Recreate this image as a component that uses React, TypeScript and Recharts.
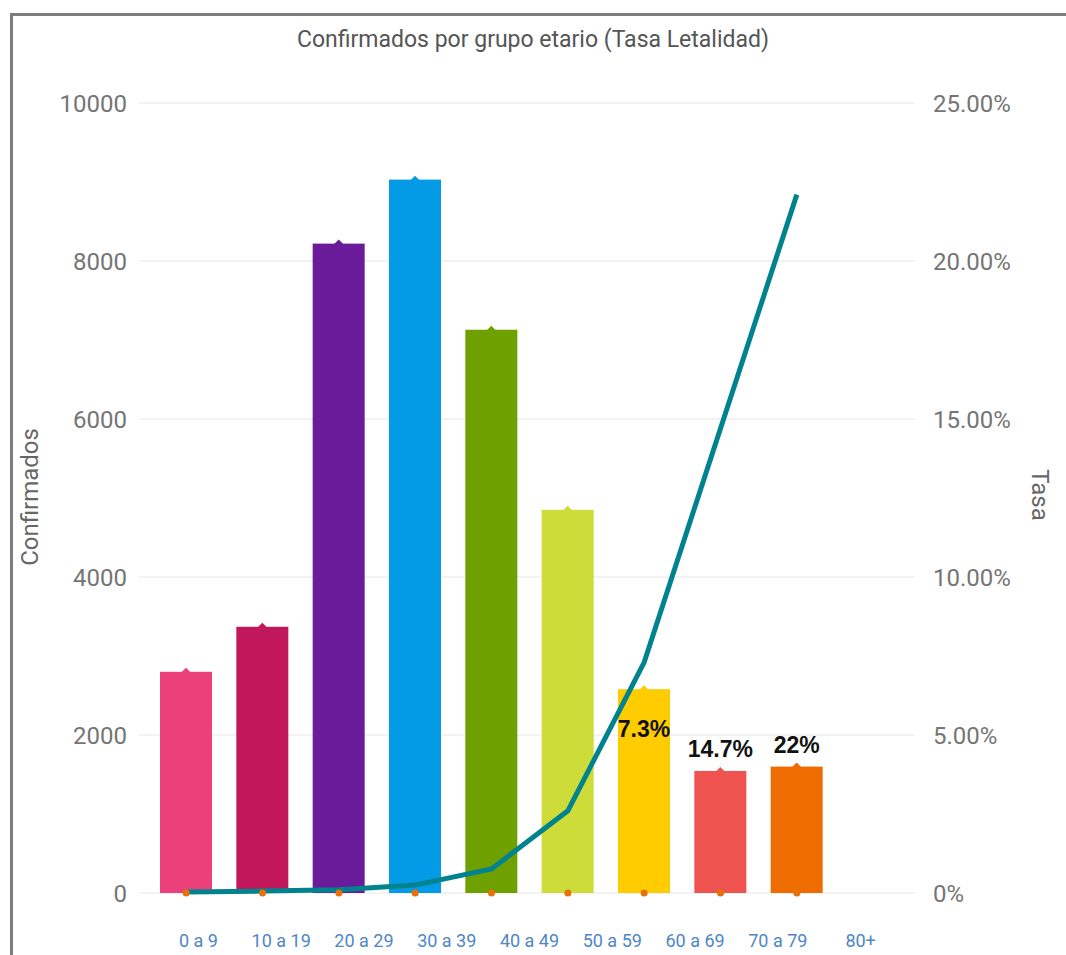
import React from "react";
import {
  Bar,
  CartesianGrid,
  Cell,
  ComposedChart,
  LabelList,
  Line,
  XAxis,
  YAxis,
} from "recharts";

// datos
const grupos = ["0 a 9", "10 a 19", "20 a 29", "30 a 39", "40 a 49", "50 a 59", "60 a 69", "70 a 79", "80+"];
const confirmados = [2800, 3370, 8220, 9030, 7130, 4850, 2580, 1545, 1600];
const tasa = [0.03, 0.06, 0.1, 0.25, 0.76, 2.6, 7.3, 14.7, 22.1];
const base = [0, 0, 0, 0, 0, 0, 0, 0, 0];
const etiquetas = ["", "", "", "", "", "", "7.3%", "14.7%", "22%"];
const colores = ["#ec407a", "#c2185b", "#6a1b9a", "#039be5", "#6ea100", "#cddc39", "#ffcc00", "#ef5350", "#ef6c00"];

const leftTicks = [0, 2000, 4000, 6000, 8000, 10000];
const rightTicks = [0, 5, 10, 15, 20, 25];

const data = grupos.map((g, i) => ({
  grupo: g,
  confirmados: confirmados[i],
  tasa: tasa[i],
  base: base[i],
  etiqueta: etiquetas[i],
}));

const FONT = "Roboto, 'Noto Sans', sans-serif";

// barra con pequeña marca en la parte superior
const BarWithCap = (props: any) => {
  const { x, y, width, height, fill } = props;
  if (width == null || height == null) return null;
  const cx = x + width / 2;
  return (
    <g>
      <rect x={x} y={y} width={width} height={height} fill={fill} />
      <path d={`M${cx - 5},${y + 1} L${cx},${y - 4} L${cx + 5},${y + 1} Z`} fill={fill} />
    </g>
  );
};

const renderEtiqueta = (p: any) => {
  const { x, y, width, value, index } = p;
  if (!value) return null;
  const inside = index === 6;
  return (
    <text
      x={x + width / 2}
      y={inside ? y + 48 : y - 14}
      textAnchor="middle"
      fontFamily="'Liberation Sans', Arial, sans-serif"
      fontWeight="bold"
      fontSize={23}
      fill="#111"
    >
      {value}
    </text>
  );
};

const App = () => {
  return (
    <div style={{ position: "absolute", left: 0, top: 0, width: 1066, height: 955, background: "#fff", overflow: "hidden" }}>
      <div
        style={{
          position: "absolute",
          left: 10,
          top: 13,
          width: 1060,
          height: 950,
          borderTop: "3px solid #7d7d7d",
          borderLeft: "3px solid #7d7d7d",
        }}
      />
      <div
        style={{
          position: "absolute",
          left: 0,
          top: 27,
          width: 1066,
          textAlign: "center",
          fontFamily: FONT,
          fontSize: 23,
          lineHeight: "26px",
          color: "#555",
        }}
      >
        Confirmados por grupo etario (Tasa Letalidad)
      </div>
      <div
        style={{
          position: "absolute",
          left: -70,
          top: 482,
          width: 200,
          textAlign: "center",
          fontFamily: FONT,
          fontSize: 24,
          lineHeight: "30px",
          color: "#666",
          transform: "rotate(-90deg)",
        }}
      >
        Confirmados
      </div>
      <div
        style={{
          position: "absolute",
          left: 940,
          top: 480,
          width: 200,
          textAlign: "center",
          fontFamily: FONT,
          fontSize: 24,
          lineHeight: "30px",
          color: "#666",
          transform: "rotate(90deg)",
        }}
      >
        Tasa
      </div>
      <div style={{ position: "absolute", left: 0, top: 0 }}>
        <ComposedChart
          width={1066}
          height={955}
          data={data}
          margin={{ top: 103, right: 51, bottom: 12, left: 39 }}
        >
          <CartesianGrid xAxisId="bars" yAxisId="left" vertical={false} stroke="#e6e6e6" />
          <XAxis xAxisId="bars" dataKey="grupo" hide padding={{ left: 9, right: 80 }} />
          <XAxis
            xAxisId="lbl"
            dataKey="grupo"
            height={50}
            axisLine={false}
            tickLine={false}
            tickSize={0}
            tickMargin={11}
            interval={0}
            padding={{ left: 18, right: 13 }}
            tick={{ fill: "#4f86c6", fontSize: 18, fontFamily: FONT }}
          />
          <YAxis
            yAxisId="left"
            width={100}
            domain={[0, 10000]}
            ticks={leftTicks}
            axisLine={false}
            tickLine={false}
            tickSize={0}
            tickMargin={12}
            tick={{ fill: "#757575", fontSize: 24, fontFamily: FONT }}
          />
          <YAxis
            yAxisId="right"
            orientation="right"
            width={100}
            domain={[0, 25]}
            ticks={rightTicks}
            axisLine={false}
            tickLine={false}
            tickSize={0}
            tickMargin={18}
            tickFormatter={(v: number) => (v === 0 ? "0%" : `${v.toFixed(2)}%`)}
            tick={{ fill: "#757575", fontSize: 24, fontFamily: FONT, textAnchor: "start" }}
          />
          <Bar
            xAxisId="bars"
            yAxisId="left"
            dataKey="confirmados"
            barSize={52}
            shape={BarWithCap}
            isAnimationActive={false}
          >
            {data.map((d, i) => (
              <Cell key={d.grupo} fill={colores[i]} />
            ))}
            <LabelList dataKey="etiqueta" content={renderEtiqueta} />
          </Bar>
          <Line
            xAxisId="bars"
            yAxisId="left"
            dataKey="base"
            stroke="none"
            dot={{ r: 3.5, fill: "#e8710a", stroke: "none" }}
            activeDot={false}
            isAnimationActive={false}
          />
          <Line
            xAxisId="bars"
            yAxisId="right"
            type="linear"
            dataKey="tasa"
            stroke="#00838f"
            strokeWidth={5}
            dot={false}
            activeDot={false}
            isAnimationActive={false}
          />
        </ComposedChart>
      </div>
    </div>
  );
};

export default App;
